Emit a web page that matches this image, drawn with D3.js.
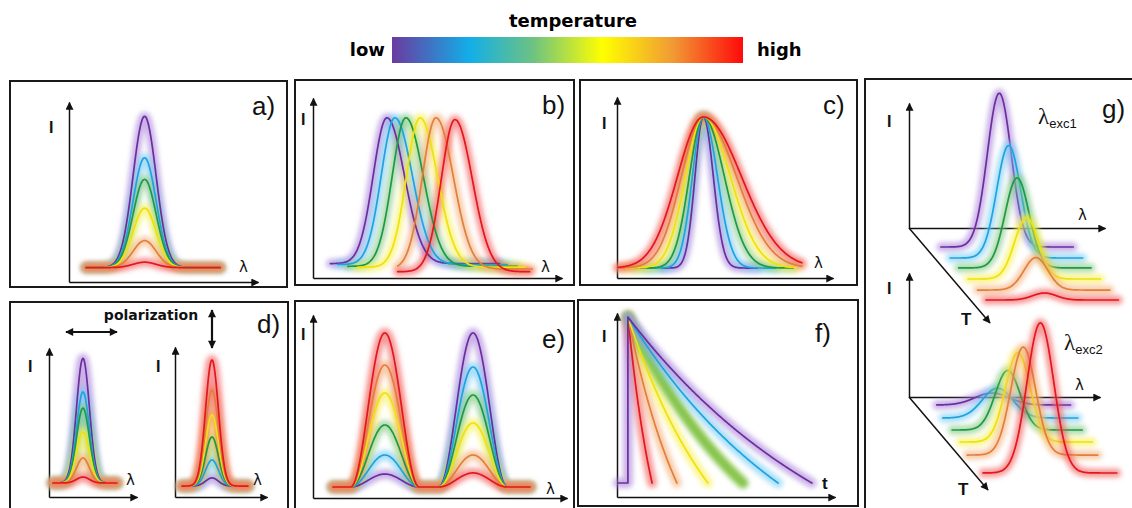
<!DOCTYPE html>
<html><head><meta charset="utf-8">
<script src="https://cdn.jsdelivr.net/npm/d3@7"></script>
<style>body{margin:0;background:#fff}svg{display:block}</style>
</head><body>
<svg id="chart" width="1132" height="508"></svg>
<script>
// ---------- DATA (temperature order: low -> high) ----------
const temperatures = ["T1","T2","T3","T4","T5","T6"];
const lineColors = ["#6c2e9e","#1fa3e0","#1d9a48","#efe10e","#e27f3c","#e3171e"];
const glowColors = ["#a77fd8","#6fc9f2","#7dc77a","#f7f04a","#f3ab73","#f25555"];
const colorbarStops = [[0,"#6b3aa0"],[0.22,"#12aee8"],[0.4,"#6cc283"],[0.6,"#ffff00"],[0.8,"#f19a34"],[1,"#ff0a0a"]];
const colorbarLabels = ["low","high"];

// a) intensity change
const aPeakI = [92, 69, 57, 41, 23, 11];
const aBase = 8, aCenter = 40, aSigma = 6.1, aSpan = [9, 80];

// b) band shift
const bCenter = [29.7, 32.9, 37.3, 43.0, 49.4, 57.0];
const bPeakI = [89, 89, 89, 89, 89, 88];
const bBase = [8, 7.5, 6.5, 6, 5, 3.5];
const bStart = [7, 10, 14, 18, 34, 34];
const bEnd = [75, 78, 82, 85, 88, 87];
const bSigma = [5.5, 7];

// c) band broadening
const cCenter = 40, cPeakI = 89, cBase = 5.5;
const cSigL = [3.9, 5.1, 6.5, 8.3, 10.2, 12.0];
const cSigR = [4.6, 6.5, 9.7, 12.5, 15.3, 17.6];
const cStart = [21, 14, 8.3, 3.7, 0.5, 0.5];
const cEnd = [65, 73.6, 81.5, 82.9, 85.6, 85.6];

// d) polarization
const dLeftPeakI = [93, 70.5, 59.7, 43.6, 26.2, 13.4];
const dLeft = {base: 9.4, center: 38.6, sigma: 7.3, span: [4.5, 77]};
const dRightPeakI = [12.7, 24.7, 40, 54.7, 71.3, 91.3];
const dRight = {base: 7.3, center: 40.2, sigma: 7.0, span: [7.6, 79.3]};

// e) band ratio
const eLeftPeakI = [13.1, 23.5, 39.9, 57.4, 72.7, 90.2];
const eRightPeakI = [90.2, 71.6, 56.3, 41, 23.5, 13.7];
const eCenters = [28.3, 63], eBase = 6, eWidth = 27, eSpan = [7.9, 85.4];

// f) lifetime
const fStartT = 5, fStartI = 97.8, fBase = 7.6, fCurv = 0.8;
const fEndT = [89.4, 73.9, 57.8, 41.7, 27.5, 16.1];
const fPulseT = 0.5;

// g) excitation dependence
const gTopT = [0.2, 0.316, 0.42, 0.537, 0.653, 0.758];
const gTopPeakI = [123, 90, 72, 49, 26, 5.6];
const gTop = {center: 37.8, sigma: 6.1, span: [8, 75.5]};
const gBotT = [0.086, 0.226, 0.355, 0.484, 0.624, 0.817];
const gBotPeakI = [9.7, 24, 48, 72, 87, 121];
const gBotCenter = [40, 37, 37, 37, 34, 35];
const gBotSigma = [9, 8, 6.5, 6.5, 6.5, 7];
const gBotStart = [11, 8.4, 7.9, 6.8, 4.7, 5];
const gBotEnd = [81, 79, 76, 76, 73, 75];

// ---------- DRAWING ----------
const svg = d3.select("#chart");
const defs = svg.append("defs");
defs.append("marker").attr("id","arr").attr("viewBox","0 0 10 10").attr("refX",9).attr("refY",5)
  .attr("markerWidth",10).attr("markerHeight",8).attr("markerUnits","userSpaceOnUse")
  .attr("orient","auto-start-reverse")
  .append("path").attr("d","M0,0L10,5L0,10z").attr("fill","#111");
const flt = defs.append("filter").attr("id","glow").attr("filterUnits","userSpaceOnUse")
  .attr("x",0).attr("y",0).attr("width",1132).attr("height",508);
flt.append("feGaussianBlur").attr("stdDeviation",2.8);
const grad = defs.append("linearGradient").attr("id","cbar").attr("x1","0%").attr("x2","100%");
colorbarStops.forEach(s => grad.append("stop").attr("offset", s[0]).attr("stop-color", s[1]));

// colorbar
svg.append("rect").attr("x",392).attr("y",37).attr("width",351).attr("height",26).attr("fill","url(#cbar)");
const bold = "DejaVu Sans";
svg.append("text").attr("x",573).attr("y",27).attr("text-anchor","middle").attr("font-family",bold)
  .attr("font-weight","bold").attr("font-size",18).text("temperature");
svg.append("text").attr("x",385).attr("y",56).attr("text-anchor","end").attr("font-family",bold)
  .attr("font-weight","bold").attr("font-size",18).text(colorbarLabels[0]);
svg.append("text").attr("x",757).attr("y",56).attr("font-family",bold)
  .attr("font-weight","bold").attr("font-size",18).text(colorbarLabels[1]);

// frames
function frame(x0,y0,x1,y1){
  svg.append("rect").attr("x",x0).attr("y",y0).attr("width",x1-x0).attr("height",y1-y0)
    .attr("fill","none").attr("stroke","#1a1a1a").attr("stroke-width",2);
}
frame(10,81,287,287); frame(295,80,574,285); frame(580,80,857,285); frame(865,79,1145,520);
frame(10,302,288,520); frame(295,301,574,520); frame(578,300,858,506);

const layer = svg.append("g");
function panel(ox, oy, xLen, yLen){
  const x = d3.scaleLinear([0,100],[ox, ox+xLen]);
  const y = d3.scaleLinear([0,100],[oy, oy-yLen]);
  const ax = layer.append("g").attr("transform",`translate(0,${oy})`)
    .call(d3.axisBottom(x).tickValues([]).tickSizeOuter(0));
  ax.select(".domain").attr("stroke","#111").attr("stroke-width",1.5).attr("marker-end","url(#arr)");
  const ay = layer.append("g").attr("transform",`translate(${ox},0)`)
    .call(d3.axisLeft(y).tickValues([]).tickSizeOuter(0));
  ay.select(".domain").attr("stroke","#111").attr("stroke-width",1.5).attr("marker-end","url(#arr)");
  return {x, y};
}
const line = d3.line().curve(d3.curveMonotoneX);
const lineFree = d3.line();
const glowLayer = svg.append("g");
const lineLayer = svg.append("g");
function curve(pts, i, opt={}){
  const gL = opt.glowLayer || glowLayer, lL = opt.lineLayer || lineLayer;
  const gen = opt.free ? lineFree : line;
  gL.append("path").attr("d", gen(pts)).attr("fill","none").attr("stroke", opt.glowColor || glowColors[i])
    .attr("stroke-width", opt.glowWidth || 9).attr("stroke-opacity", opt.glowOpacity || 0.6)
    .attr("stroke-linecap","round").attr("stroke-linejoin","round").attr("filter","url(#glow)");
  if (!opt.noLine) lL.append("path").attr("d", gen(pts)).attr("fill","none").attr("stroke", lineColors[i])
    .attr("stroke-width", opt.lineWidth || 1.7).attr("stroke-linecap","round").attr("stroke-linejoin","round");
}
const gauss = (l, c, sl, sr) => { const s = l < c ? sl : sr; return Math.exp(-0.5*((l-c)/s)**2); };
const samples = (a, b, st=0.25) => { const r = d3.range(a, b, st); r.push(b); return r; };

function text(x, y, s, o={}){
  return svg.append("text").attr("x",x).attr("y",y).attr("font-family", o.family || "Liberation Sans")
    .attr("font-size", o.size || 14).attr("font-weight", o.weight || "normal")
    .attr("text-anchor", o.anchor || "start").attr("fill","#111").text(s);
}
const Ilab = (x,y) => text(x,y,"I",{weight:"bold",size:16});
const Llab = (x,y) => text(x,y,"λ",{family:"DejaVu Sans",size:15});
const panelLab = (x,y,s) => text(x,y,s,{size:26});

// a)
{
  const p = panel(69, 282, 189, 180);
  temperatures.forEach((t,i) => {
    const pts = samples(aSpan[0], aSpan[1]).map(l => [p.x(l), p.y(aBase + (aPeakI[i]-aBase)*gauss(l,aCenter,aSigma,aSigma))]);
    curve(pts, i);
  });
  Ilab(49,133); Llab(239,272); panelLab(252,115,"a)");
}
// b)
{
  const p = panel(313, 278, 249, 180);
  temperatures.forEach((t,i) => {
    const pts = samples(bStart[i], bEnd[i]).map(l => [p.x(l), p.y(bBase[i] + (bPeakI[i]-bBase[i])*gauss(l,bCenter[i],bSigma[0],bSigma[1]))]);
    curve(pts, i);
  });
  Ilab(301,125); Llab(541,272); panelLab(542,114,"b)");
}
// c)
{
  const p = panel(617, 278, 216, 181);
  temperatures.forEach((t,i) => {
    const pts = samples(cStart[i], cEnd[i]).map(l => [p.x(l), p.y(cBase + (cPeakI-cBase)*gauss(l,cCenter,cSigL[i],cSigR[i]))]);
    curve(pts, i);
  });
  Ilab(602,129); Llab(814,268); panelLab(823,114,"c)");
}
// d)
{
  const pl = panel(49, 497, 88, 149);
  const pr = panel(175, 497, 92, 150);
  [[pl,dLeft,dLeftPeakI],[pr,dRight,dRightPeakI]].forEach(([p,d,peaks]) => {
    temperatures.forEach((t,i) => {
      const pts = samples(d.span[0], d.span[1]).map(l => [p.x(l), p.y(d.base + (peaks[i]-d.base)*gauss(l,d.center,d.sigma,d.sigma))]);
      curve(pts, i, {glowWidth: 10});
    });
  });
  Ilab(28,372); Ilab(156,372); Llab(126,485); Llab(253,485);
  text(151,320,"polarization",{family:bold,weight:"bold",size:14,anchor:"middle"});
  layer.append("line").attr("x1",66).attr("y1",332).attr("x2",117).attr("y2",332).attr("stroke","#111")
    .attr("stroke-width",2.2).attr("marker-start","url(#arr)").attr("marker-end","url(#arr)");
  layer.append("line").attr("x1",212).attr("y1",310).attr("x2",212).attr("y2",348).attr("stroke","#111")
    .attr("stroke-width",2.2).attr("marker-start","url(#arr)").attr("marker-end","url(#arr)");
  panelLab(257,333,"d)");
}
// e)
{
  const p = panel(313, 498, 254, 183);
  const bump = (l,c) => Math.abs(l-c) < eWidth/2 ? Math.cos(Math.PI*(l-c)/eWidth)**2 : 0;
  temperatures.forEach((t,i) => {
    const pts = samples(eSpan[0], eSpan[1]).map(l => [p.x(l),
      p.y(eBase + (eLeftPeakI[i]-eBase)*bump(l,eCenters[0]) + (eRightPeakI[i]-eBase)*bump(l,eCenters[1]))]);
    curve(pts, i, {glowWidth: 10});
  });
  Ilab(301,340); Llab(546,494); panelLab(542,348,"e)");
}
// f)
{
  const p = panel(617, 497, 218, 184);
  const decay = u => (Math.exp(-fCurv*u) - Math.exp(-fCurv)) / (1 - Math.exp(-fCurv));
  for (let i = temperatures.length-1; i >= 0; i--) {
    const pts = samples(fStartT, fEndT[i]).map(t => [p.x(t), p.y(fBase + (fStartI-fBase)*decay((t-fStartT)/(fEndT[i]-fStartT)))]);
    if (i === 0) pts.unshift([p.x(fPulseT), p.y(fBase)], [p.x(fStartT), p.y(fBase)]);
    if (i === 2) curve(pts, i, {free:true, glowColor:"#7fc241", glowWidth:11, glowOpacity:0.95, noLine:true});
    else curve(pts, i, {free:true, glowWidth:10});
  }
  Ilab(602,342); text(822,489,"t",{weight:"bold",size:17}); panelLab(815,342,"f)");
}
// g)
function gPanel(ox, oy, xLen, yLen, tdx, tdy){
  const p = panel(ox, oy, xLen, yLen);
  layer.append("line").attr("x1",ox).attr("y1",oy).attr("x2",ox+tdx).attr("y2",oy+tdy)
    .attr("stroke","#111").attr("stroke-width",1.5).attr("marker-end","url(#arr)");
  const gg = svg.append("g");
  return {proj: (l, I, T) => [p.x(l) + T*tdx, p.y(I) + T*tdy], g: gg};
}
{
  const top = gPanel(909, 228, 196, 125, 81, 95);
  temperatures.forEach((t,i) => {
    const pts = samples(gTop.span[0], gTop.span[1]).map(l => top.proj(l, gTopPeakI[i]*gauss(l,gTop.center,gTop.sigma,gTop.sigma), gTopT[i]));
    curve(pts, i, {glowLayer: top.g, lineLayer: top.g});
  });
  const bot = gPanel(909, 397, 191, 124, 79, 93);
  temperatures.forEach((t,i) => {
    const pts = samples(gBotStart[i], gBotEnd[i]).map(l => bot.proj(l, gBotPeakI[i]*gauss(l,gBotCenter[i],gBotSigma[i],gBotSigma[i]), gBotT[i]));
    curve(pts, i, {glowLayer: bot.g, lineLayer: bot.g});
  });
  Ilab(887,127); Ilab(887,294); Llab(1078,220); Llab(1075,390);
  text(961,325,"T",{weight:"bold",size:17}); text(958,495,"T",{weight:"bold",size:17});
  const l1 = text(1038,124,"λ",{family:"Liberation Serif",size:23});
  l1.append("tspan").attr("font-family","Liberation Sans").attr("font-size",13).attr("dy",4).text("exc1");
  const l2 = text(1064,350,"λ",{family:"Liberation Serif",size:23});
  l2.append("tspan").attr("font-family","Liberation Sans").attr("font-size",13).attr("dy",4).text("exc2");
  panelLab(1102,118,"g)");
}
</script>
</body></html>
